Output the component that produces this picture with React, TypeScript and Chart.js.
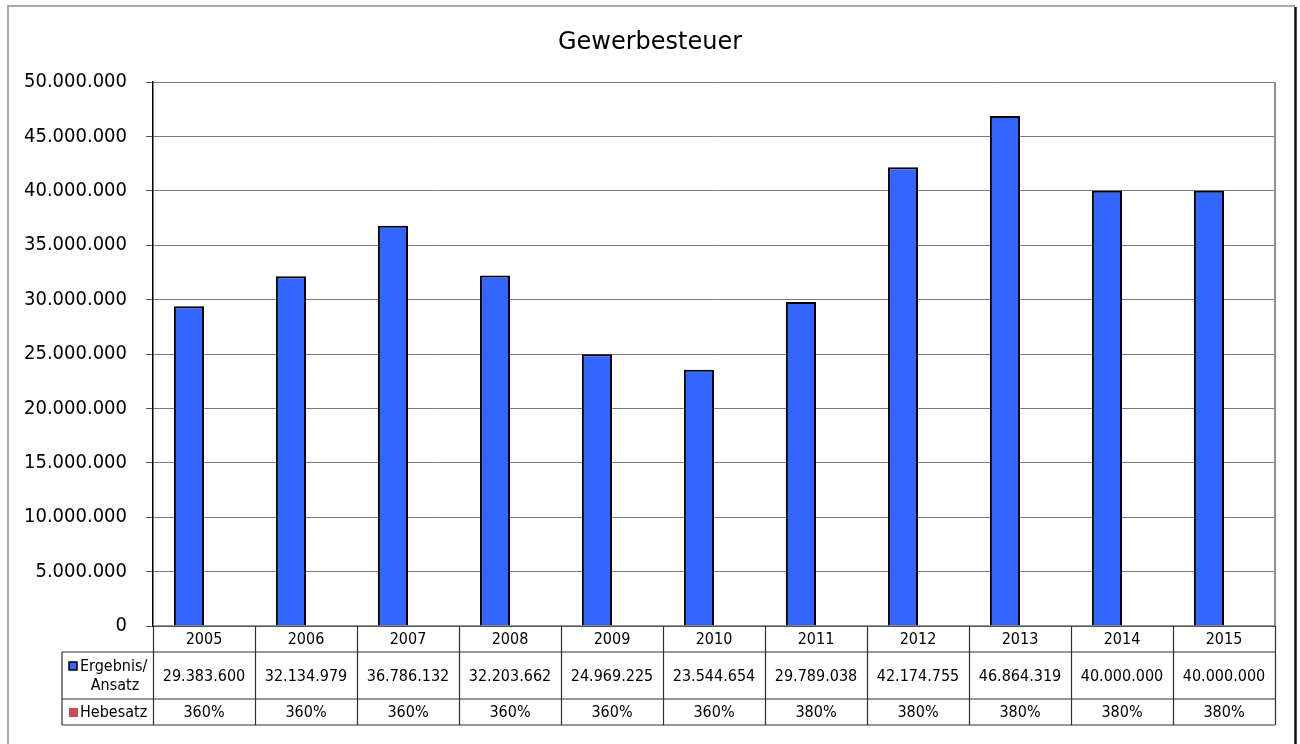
import React, { useEffect, useRef } from 'react';
import { Chart, registerables } from 'chart.js';

Chart.register(...registerables);

const titleText = 'Gewerbesteuer';
const years = ['2005', '2006', '2007', '2008', '2009', '2010', '2011', '2012', '2013', '2014', '2015'];
const ergebnis = [29383600, 32134979, 36786132, 32203662, 24969225, 23544654, 29789038, 42174755, 46864319, 40000000, 40000000];
const hebesatz = [360, 360, 360, 360, 360, 360, 380, 380, 380, 380, 380];
const ergebnisLabel = ['Ergebnis/', 'Ansatz'];
const hebesatzLabel = 'Hebesatz';
const yMax = 50000000;
const yStep = 5000000;

const BLUE = '#3366FF';
const RED = '#CC4C4C';
const COND = '"DejaVu Sans Condensed", "DejaVu Sans", sans-serif';

const fmt = (n: number) => String(Math.round(n)).replace(/\B(?=(\d{3})+(?!\d))/g, '.');

const tablePlugin = {
  id: 'tablePlugin',
  afterDraw(chart: any) {
    const ctx = chart.ctx as CanvasRenderingContext2D;
    const area = chart.chartArea;
    const xs = chart.scales.x;
    const cw = xs.getPixelForValue(1) - xs.getPixelForValue(0);
    const left = area.left;
    const right = area.right;
    const r0 = area.bottom;
    const r1 = r0 + 26;
    const r2 = r1 + 47;
    const r3 = r2 + 26;
    const legLeft = 62;
    ctx.save();

    // outer frame
    ctx.strokeStyle = '#A8A8A8';
    ctx.lineWidth = 2;
    ctx.beginPath();
    ctx.moveTo(8, 744);
    ctx.lineTo(8, 6);
    ctx.lineTo(1295, 6);
    ctx.stroke();
    ctx.strokeStyle = '#111';
    ctx.lineWidth = 2.5;
    ctx.beginPath();
    ctx.moveTo(1295.5, 7);
    ctx.lineTo(1295.5, 744);
    ctx.stroke();

    // title
    ctx.fillStyle = '#000';
    ctx.font = '24px "DejaVu Sans", sans-serif';
    ctx.textAlign = 'center';
    ctx.textBaseline = 'alphabetic';
    ctx.fillText(titleText, 650, 49);

    // plot right border
    ctx.strokeStyle = '#909090';
    ctx.lineWidth = 2;
    ctx.beginPath();
    ctx.moveTo(right, area.top);
    ctx.lineTo(right, r0);
    ctx.stroke();

    // table lines
    ctx.strokeStyle = '#303030';
    ctx.lineWidth = 1.2;
    ctx.beginPath();
    ctx.moveTo(left, r0);
    ctx.lineTo(right, r0);
    ctx.moveTo(legLeft, r1);
    ctx.lineTo(right, r1);
    ctx.moveTo(legLeft, r2);
    ctx.lineTo(right, r2);
    ctx.moveTo(legLeft, r3);
    ctx.lineTo(right, r3);
    ctx.moveTo(legLeft, r1);
    ctx.lineTo(legLeft, r3);
    for (let i = 0; i <= years.length; i++) {
      const x = Math.round(xs.getPixelForValue(0) - cw / 2 + i * cw) + 0.5;
      ctx.moveTo(x, r0);
      ctx.lineTo(x, r3);
    }
    ctx.stroke();

    // texts
    ctx.fillStyle = '#000';
    ctx.textAlign = 'center';
    ctx.textBaseline = 'middle';
    ctx.font = '16px ' + COND;
    years.forEach((y, i) => {
      const cx = xs.getPixelForValue(i);
      ctx.fillText(y, cx, (r0 + r1) / 2 + 1);
      ctx.fillText(fmt(ergebnis[i]), cx, (r1 + r2) / 2 + 1);
      ctx.fillText(hebesatz[i] + '%', cx, (r2 + r3) / 2 + 1);
    });

    // legend cells
    ctx.fillStyle = BLUE;
    ctx.fillRect(69, 662, 8, 8);
    ctx.strokeStyle = '#000';
    ctx.lineWidth = 1.5;
    ctx.strokeRect(69, 662, 8, 8);
    ctx.fillStyle = RED;
    ctx.fillRect(69, 708, 9, 9);
    ctx.fillStyle = '#000';
    ctx.font = '16px ' + COND;
    ctx.textAlign = 'left';
    ctx.fillText(ergebnisLabel[0], 80, 667);
    ctx.textAlign = 'center';
    ctx.fillText(ergebnisLabel[1], 115, 686);
    ctx.textAlign = 'left';
    ctx.fillText(hebesatzLabel, 80, 713);
    ctx.restore();
  },
};

export default function App() {
  const ref = useRef<HTMLCanvasElement>(null);
  useEffect(() => {
    if (!ref.current) return;
    const chart = new Chart(ref.current, {
      type: 'bar',
      data: {
        labels: years,
        datasets: [
          {
            label: ergebnisLabel.join(' '),
            data: ergebnis,
            backgroundColor: BLUE,
            borderColor: '#000',
            borderWidth: 2,
          },
          {
            label: hebesatzLabel,
            data: hebesatz,
            backgroundColor: 'rgba(0,0,0,0)',
            borderWidth: 0,
          },
        ],
      },
      options: {
        responsive: false,
        animation: false,
        layout: { padding: { top: 82, bottom: 118, right: 25, left: 0 } },
        datasets: { bar: { categoryPercentage: 0.59, barPercentage: 1 } },
        plugins: {
          legend: { display: false },
          title: { display: false },
          tooltip: { enabled: false },
        },
        scales: {
          x: { display: false },
          y: {
            min: 0,
            max: yMax,
            afterFit: (s: any) => {
              s.width = 153;
            },
            ticks: {
              stepSize: yStep,
              color: '#000',
              font: { family: COND, size: 20 },
              padding: 19,
              callback: (v: any) => fmt(Number(v)),
            },
            grid: { color: '#7A7A7A', lineWidth: 1, tickLength: 7, tickColor: '#555' },
            border: { display: true, color: '#000', width: 1.5 },
          },
        },
      },
      plugins: [tablePlugin],
    });
    return () => chart.destroy();
  }, []);
  return (
    <div style={{ position: 'absolute', left: 0, top: 0, width: 1300, height: 744, background: '#fff' }}>
      <canvas ref={ref} width={1300} height={744} />
    </div>
  );
}
